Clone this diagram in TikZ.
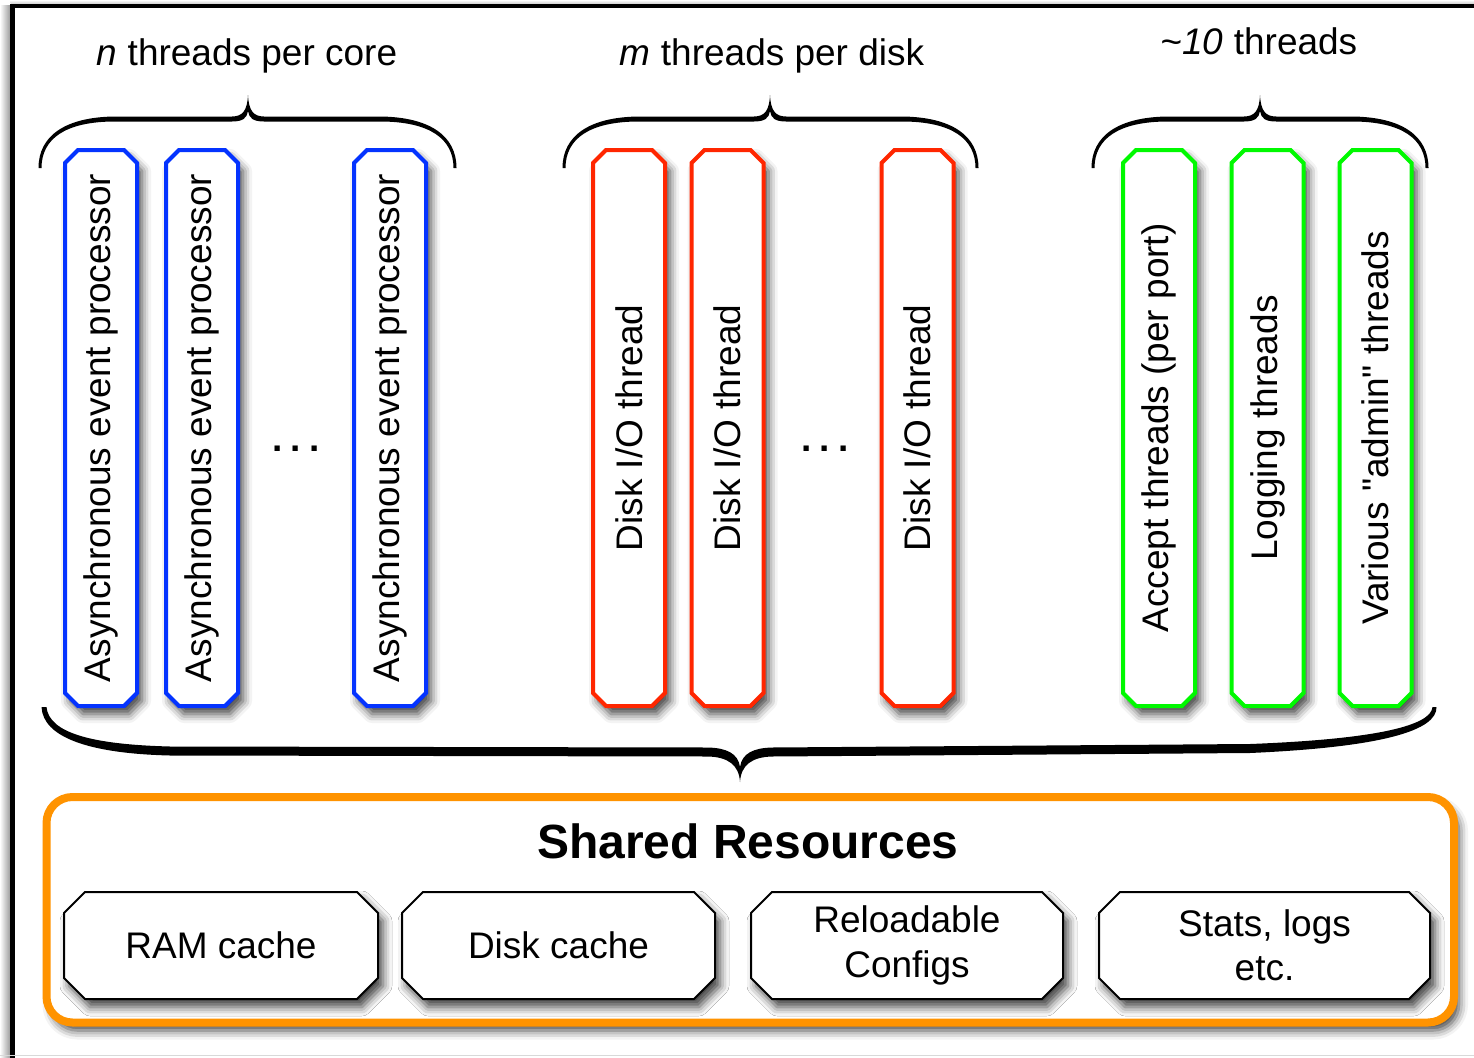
\documentclass[tikz,border=0pt]{standalone}
\usepackage{fontspec}
\setmainfont{Liberation Sans}
\usepackage{graphicx}
\usetikzlibrary{shadows.blur}
\definecolor{cblue}{HTML}{0433FF}
\definecolor{cred}{HTML}{FF2600}
\definecolor{cgreen}{HTML}{00F900}
\definecolor{corange}{HTML}{FF9300}
\pgfdeclarelayer{back}
\pgfsetlayers{back,main}
\newcommand\fsr{\fontsize{37}{44.5}\selectfont}
\newcommand\fsb{\fontsize{48}{56}\selectfont\bfseries}
% top brace: left tip x, cusp x, right tip x
\newcommand\tbrace[3]{%
 \fill (#1-1.5,168) .. controls (#1-1.5,136) and (#1+25,117) .. (#1+75,116.5)
   -- (#2-16,116.5) .. controls (#2-5,116.5) and (#2-0.7,110) .. (#2,95)
   .. controls (#2+0.7,110) and (#2+5,116.5) .. (#2+16,116.5)
   -- (#3-75,116.5) .. controls (#3-25,117) and (#3+1.5,136) .. (#3+1.5,168)
   -- (#3-1.5,168) .. controls (#3-1.5,139) and (#3-25,121.5) .. (#3-75,121.5)
   -- (#2+16,121.5) .. controls (#2+5,121.5) and (#2+1,118) .. (#2,111)
   .. controls (#2-1,118) and (#2-5,121.5) .. (#2-16,121.5)
   -- (#1+75,121.5) .. controls (#1+25,121.5) and (#1+1.5,139) .. (#1+1.5,168) -- cycle;}
% octagon outline behind a node: node name, chamfer, style
\newcommand\octo[3]{%
 \begin{pgfonlayer}{back}
 \path[#3] ([xshift=#2]#1.north west) -- ([xshift=-#2]#1.north east)
   -- ([yshift=-#2]#1.north east) -- ([yshift=#2]#1.south east)
   -- ([xshift=-#2]#1.south east) -- ([xshift=#2]#1.south west)
   -- ([yshift=#2]#1.south west) -- ([yshift=-#2]#1.north west) -- cycle;
 \end{pgfonlayer}}
\tikzset{
  shad/.style={blur shadow={shadow xshift=5pt, shadow yshift=-8pt, shadow blur radius=9pt, shadow opacity=75}},
  vbox/.style={rectangle, minimum width=72pt, minimum height=556pt, inner sep=0pt, outer sep=0pt, font=\fsr},
  vline/.style={line width=4pt, fill=white, draw=#1, shad},
  hbox/.style={rectangle, minimum width=#1, minimum height=107pt, inner sep=0pt, outer sep=0pt,
    font=\fsr, align=center},
  hline/.style={line width=2pt, fill=white, draw=black, shad},
  lbl/.style={font=\fsr, inner sep=0pt, anchor=base},
  dotsnode/.style={font=\fsr\bfseries, inner sep=0pt}
}
\begin{document}
\begin{tikzpicture}[x=1pt,y=-1pt]
\useasboundingbox (0,0) rectangle (1474,1057);
% outer frame and its shadow
\shade[left color=white, right color=black!40] (0,6) rectangle (10.5,1057);
\shade[top color=white, bottom color=black!20] (10.5,0) rectangle (1474,4);
\draw[line width=4.5pt] (1500,6) -- (12.5,6) -- (12.5,1080);
\draw[black!15, line width=1pt] (0,1055.5) -- (1474,1055.5);

% labels
\node[lbl] (l1) at (247,66) {\textit{n} threads per core};
\node[lbl] (l2) at (772,66) {\textit{m} threads per disk};
\node[lbl] (l3) at (1259,55) {\textit{\textasciitilde10} threads};

% top braces
\tbrace{40}{248}{455}
\tbrace{564}{770}{977}
\tbrace{1093}{1260}{1427}

% blue boxes
\node[vbox] (a1) at (101,428) {\rotatebox{90}{Asynchronous event processor}};
\node[vbox] (a2) at (202,428) {\rotatebox{90}{Asynchronous event processor}};
\node[vbox] (a3) at (390,428) {\rotatebox{90}{Asynchronous event processor}};
\octo{a1}{13pt}{vline=cblue}
\octo{a2}{13pt}{vline=cblue}
\octo{a3}{13pt}{vline=cblue}
\node[dotsnode] (d1) at (296,449) {.\hspace{8.5pt}.\hspace{8.5pt}.};

% red boxes
\node[vbox] (r1) at (629,428) {\rotatebox{90}{Disk I/O thread}};
\node[vbox] (r2) at (727.5,428) {\rotatebox{90}{Disk I/O thread}};
\node[vbox] (r3) at (917.5,428) {\rotatebox{90}{Disk I/O thread}};
\octo{r1}{13pt}{vline=cred}
\octo{r2}{13pt}{vline=cred}
\octo{r3}{13pt}{vline=cred}
\node[dotsnode] (d2) at (825,449) {.\hspace{8.5pt}.\hspace{8.5pt}.};

% green boxes
\node[vbox] (g1) at (1159,428) {\rotatebox{90}{Accept threads (per port)}};
\node[vbox] (g2) at (1267.5,428) {\rotatebox{90}{Logging threads}};
\node[vbox] (g3) at (1375.5,428) {\rotatebox{90}{Various \textquotedbl admin\textquotedbl{} threads}};
\octo{g1}{13pt}{vline=cgreen}
\octo{g2}{13pt}{vline=cgreen}
\octo{g3}{13pt}{vline=cgreen}

% bottom brace
\fill (41.5,707) .. controls (43,737) and (88,753.5) .. (170,755.5)
  -- (708,756.5) .. controls (728,757) and (739,765) .. (740,782)
  .. controls (741,765) and (752,757) .. (772,756.5)
  -- (1250,753) .. controls (1385,747) and (1437,730) .. (1436.5,707)
  -- (1432.5,707) .. controls (1431,725) and (1380,739) .. (1250,744)
  -- (772,747.5) .. controls (754,748) and (742,753) .. (740,767)
  .. controls (738,753) and (726,748) .. (708,747.5)
  -- (170,746.5) .. controls (92,744.5) and (49,733) .. (46.5,707) -- cycle;

% shared resources
\begin{pgfonlayer}{back}
\node[rectangle, rounded corners=26pt, line width=8pt, draw=corange, fill=white,
  minimum width=1407.5pt, minimum height=225.5pt, inner sep=0pt, shad] (res) at (750.25,909.75) {};
\end{pgfonlayer}
\node[font=\fsb, inner sep=0pt, anchor=base] (srt) at (748,858) {Shared Resources};
\node[hbox=314pt] (b1) at (221,945.5) {RAM cache};
\node[hbox=313pt] (b2) at (558.5,945.5) {Disk cache};
\node[hbox=312pt] (b3) at (907,945.5) {Reloadable\\Configs};
\node[hbox=331pt] (b4) at (1264.5,945.5) {Stats, logs\\etc.};
\octo{b1}{21pt}{hline}
\octo{b2}{21pt}{hline}
\octo{b3}{21pt}{hline}
\octo{b4}{21pt}{hline}
\end{tikzpicture}
\end{document}
